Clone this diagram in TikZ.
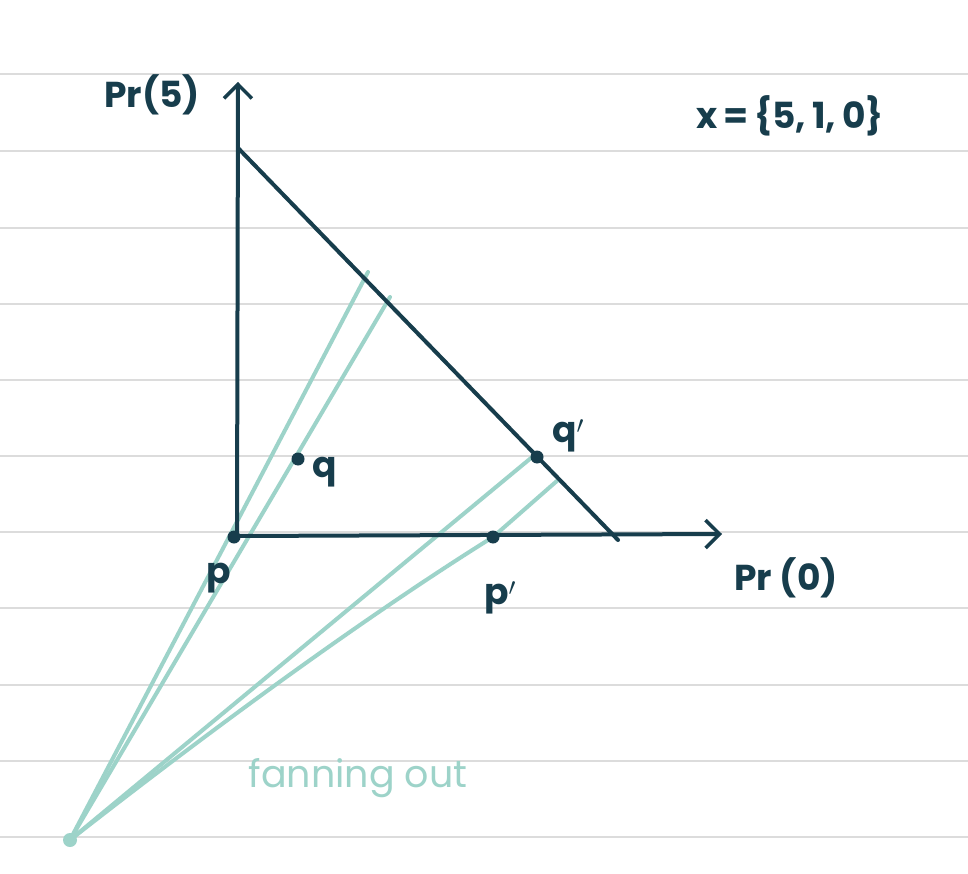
\documentclass[tikz,border=0pt]{standalone}
\usepackage{fontspec}
\setmainfont{Poppins}
\usetikzlibrary{arrows.meta}
\definecolor{ink}{HTML}{173D4C}
\definecolor{teal}{HTML}{9DD3C9}
\definecolor{rule}{HTML}{DCDCDC}
\tikzset{
  ruleline/.style={draw=rule, line width=1.6pt},
  axis/.style={draw=ink, line width=4pt, line cap=round, -{Straight Barb[length=14pt,width=28pt,line width=3.5pt]}},
  inkline/.style={draw=ink, line width=4pt, line cap=round},
  fan/.style={draw=teal, line width=4pt, line cap=round, line join=round},
  dot/.style={circle, fill=ink, inner sep=0pt, minimum size=13pt},
  lbl/.style={text=ink, font=\bfseries\fontsize{36}{38}\selectfont},
}
\begin{document}
\begin{tikzpicture}[x=1pt,y=-1pt]
\useasboundingbox[fill=white] (0,0) rectangle (968,874);
% ruled paper
\foreach \yy in {74,151,228,304,380,456,532,608,685,761,837}
  \draw[ruleline] (0,\yy) -- (968,\yy);
% coordinates
\coordinate (O) at (237,536);
\coordinate (ytip) at (238,82);
\coordinate (xtip) at (722,534);
\coordinate (A) at (238,148);
\coordinate (B) at (618,540);
\coordinate (F) at (70,840);
\coordinate (h1) at (368,272);
\coordinate (h2) at (390,297);
\coordinate (h3) at (531,458);
\coordinate (h4) at (558,480);
% fan lines
\draw[fan] (F) -- (h1);
\draw[fan] (F) -- (h2);
\draw[fan] (F) -- (h3);
\draw[fan] (F) .. controls (300,660) and (440,570) .. (493,537) -- (h4);
\node[circle, fill=teal, inner sep=0pt, minimum size=14pt] (apex) at (F) {};
% axes and triangle
\draw[axis] (O) -- (ytip);
\draw[axis] (O) -- (xtip);
\draw[inkline] (A) -- (B);
% points
\node[dot] (p) at (234,537) {};
\node[dot] (q) at (298,459) {};
\node[dot] (qq) at (537,457) {};
\node[dot] (pp) at (493,537) {};
% labels
\node[lbl] (plbl) at (219,578) {p};
\node[lbl] (qlbl) at (325,472) {q};
\node[lbl] (qqlbl) at (568,436) {q$'$};
\node[lbl] (pplbl) at (500,598) {p$'$};
\node[lbl] (ylbl) at (152,95) {Pr(5)};
\node[lbl] (xlbl) at (786,578) {Pr (0)};
\node[lbl] (set) at (790,116) {x\,=\,\{5,\,1,\,0\}};
\node[text=teal, font=\fontsize{38}{40}\selectfont] (fan) at (358,778) {fanning out};
\end{tikzpicture}
\end{document}
